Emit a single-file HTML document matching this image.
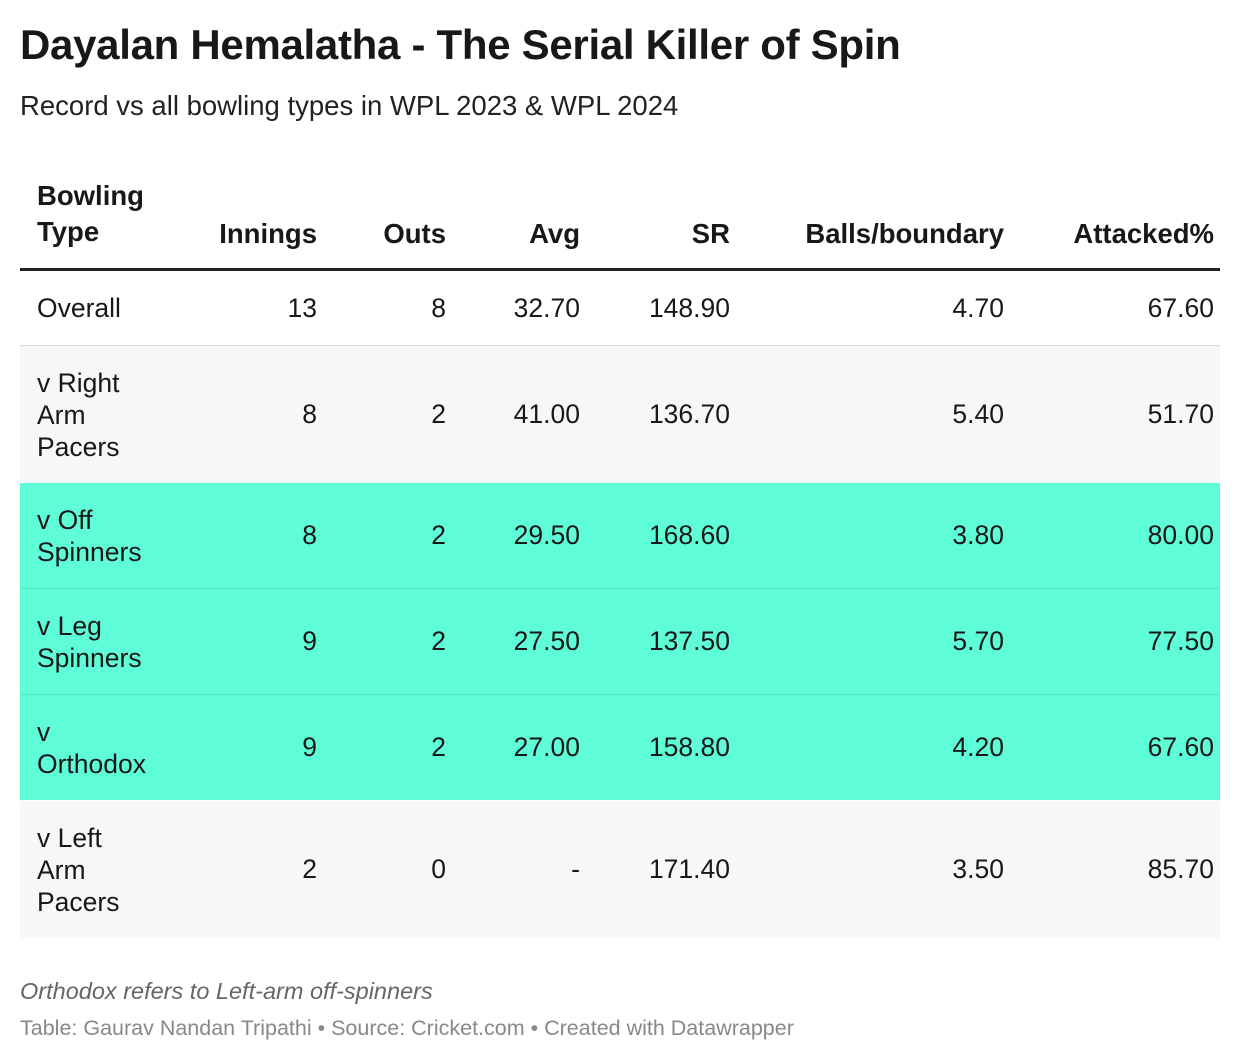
<!DOCTYPE html>
<html><head><meta charset="utf-8"><style>
body{margin:0;width:1240px;height:1062px;background:#fff;font-family:"Liberation Sans",Arial,sans-serif;color:#181818;position:relative;overflow:hidden}
.a{position:absolute}
h1{position:absolute;left:20px;top:21px;margin:0;font-size:42px;font-weight:bold;letter-spacing:-0.3px}
.sub{left:20px;top:90px;font-size:27.5px;color:#222}
.row{position:absolute;left:20px;width:1200px}
.c{position:absolute;top:0;bottom:0;display:flex;align-items:center;font-size:26.5px;justify-content:flex-end}
.l{left:17px;width:130px;justify-content:flex-start;line-height:32px}
.hd .c{font-weight:bold;font-size:27.5px;align-items:flex-end;padding-bottom:18px}
.t{background:#5ffdd7}
.g{background:#f7f7f7}
</style></head><body>
<h1>Dayalan Hemalatha - The Serial Killer of Spin</h1>
<div class="a sub">Record vs all bowling types in WPL 2023 &amp; WPL 2024</div>

<div class="row hd" style="top:170px;height:98px;border-bottom:3px solid #222">
<div class="c l" style="line-height:36px">Bowling<br>Type</div>
<div class="c" style="right:903px">Innings</div>
<div class="c" style="right:774px">Outs</div>
<div class="c" style="right:640px">Avg</div>
<div class="c" style="right:490px">SR</div>
<div class="c" style="right:216px">Balls/boundary</div>
<div class="c" style="right:6px">Attacked%</div>
</div>

<div class="row" style="top:271px;height:74px;border-bottom:1px solid #ddd">
<div class="c l">Overall</div><div class="c" style="right:903px">13</div><div class="c" style="right:774px">8</div><div class="c" style="right:640px">32.70</div><div class="c" style="right:490px">148.90</div><div class="c" style="right:216px">4.70</div><div class="c" style="right:6px">67.60</div></div>

<div class="row g" style="top:346px;height:137px">
<div class="c l">v Right<br>Arm<br>Pacers</div><div class="c" style="right:903px">8</div><div class="c" style="right:774px">2</div><div class="c" style="right:640px">41.00</div><div class="c" style="right:490px">136.70</div><div class="c" style="right:216px">5.40</div><div class="c" style="right:6px">51.70</div></div>

<div class="row t" style="top:483px;height:105px;border-bottom:1px solid #4fe8c2">
<div class="c l">v Off<br>Spinners</div><div class="c" style="right:903px">8</div><div class="c" style="right:774px">2</div><div class="c" style="right:640px">29.50</div><div class="c" style="right:490px">168.60</div><div class="c" style="right:216px">3.80</div><div class="c" style="right:6px">80.00</div></div>

<div class="row t" style="top:589px;height:105px;border-bottom:1px solid #4fe8c2">
<div class="c l">v Leg<br>Spinners</div><div class="c" style="right:903px">9</div><div class="c" style="right:774px">2</div><div class="c" style="right:640px">27.50</div><div class="c" style="right:490px">137.50</div><div class="c" style="right:216px">5.70</div><div class="c" style="right:6px">77.50</div></div>

<div class="row t" style="top:695px;height:105px">
<div class="c l">v<br>Orthodox</div><div class="c" style="right:903px">9</div><div class="c" style="right:774px">2</div><div class="c" style="right:640px">27.00</div><div class="c" style="right:490px">158.80</div><div class="c" style="right:216px">4.20</div><div class="c" style="right:6px">67.60</div></div>

<div class="row g" style="top:801px;height:137px">
<div class="c l">v Left<br>Arm<br>Pacers</div><div class="c" style="right:903px">2</div><div class="c" style="right:774px">0</div><div class="c" style="right:640px">-</div><div class="c" style="right:490px">171.40</div><div class="c" style="right:216px">3.50</div><div class="c" style="right:6px">85.70</div></div>

<div class="a" style="left:20px;top:978px;font-size:23.5px;font-style:italic;color:#666">Orthodox refers to Left-arm off-spinners</div>
<div class="a" style="left:20px;top:1016px;font-size:21.5px;color:#888">Table: Gaurav Nandan Tripathi • Source: Cricket.com • Created with Datawrapper</div>
</body></html>
